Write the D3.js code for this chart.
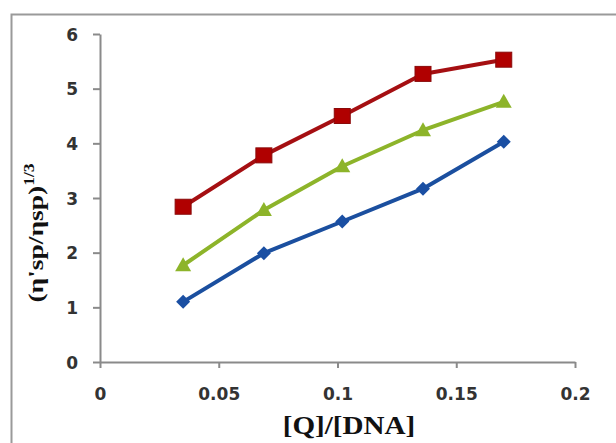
<!DOCTYPE html>
<html>
<head>
<meta charset="utf-8">
<script src="https://cdn.jsdelivr.net/npm/d3@7"></script>
<style>
  html, body { margin: 0; padding: 0; background: #fff; }
  svg { display: block; }
</style>
</head>
<body>
<svg id="chart" width="616" height="443"></svg>
<script>
// ---- data ----
const xValues = [0.035, 0.069, 0.102, 0.136, 0.17];
const seriesRed = [2.84, 3.78, 4.50, 5.27, 5.53];
const seriesGreen = [1.77, 2.78, 3.58, 4.24, 4.76];
const seriesBlue = [1.10, 1.99, 2.57, 3.17, 4.03];
const xTickValues = [0, 0.05, 0.1, 0.15, 0.2];
const xTickLabels = ["0", "0.05", "0.1", "0.15", "0.2"];
const yTickValues = [0, 1, 2, 3, 4, 5, 6];
const yTickLabels = ["0", "1", "2", "3", "4", "5", "6"];

const svg = d3.select("#chart");

// outer frame (partially cropped in the reference)
svg.append("rect")
  .attr("x", 11.5).attr("y", 14.5)
  .attr("width", 700).attr("height", 600)
  .attr("fill", "none").attr("stroke", "#9a9a9a").attr("stroke-width", 2);

const x = d3.scaleLinear().domain([0, 0.2]).range([100, 575]);
const y = d3.scaleLinear().domain([0, 6]).range([362, 34]);

const axisColor = "#8a8a8a";

// x axis
const gx = svg.append("g").attr("transform", `translate(0,${y(0)})`)
  .call(d3.axisBottom(x).tickValues(xTickValues)
    .tickFormat((d, i) => xTickLabels[i]).tickSize(6).tickSizeOuter(0));
gx.select(".domain").attr("stroke", axisColor).attr("stroke-width", 2);
gx.selectAll(".tick line").attr("stroke", axisColor).attr("stroke-width", 2);
gx.selectAll(".tick text")
  .attr("y", 0).attr("dy", 0)
  .attr("transform", "translate(0,38)")
  .attr("font-family", "DejaVu Sans").attr("font-weight", "bold")
  .attr("font-size", 17).attr("fill", "#333");

// y axis
const gy = svg.append("g").attr("transform", `translate(${x(0)},0)`)
  .call(d3.axisLeft(y).tickValues(yTickValues)
    .tickFormat((d, i) => yTickLabels[i]).tickSize(7).tickSizeOuter(0));
gy.select(".domain").attr("stroke", axisColor).attr("stroke-width", 2);
gy.selectAll(".tick line").attr("stroke", axisColor).attr("stroke-width", 2);
gy.selectAll(".tick text")
  .attr("x", -22).attr("dy", "0.36em")
  .attr("font-family", "DejaVu Sans").attr("font-weight", "bold")
  .attr("font-size", 17).attr("fill", "#333");

// series
const series = [
  { values: seriesBlue, color: "#1b4f9f", marker: "diamond" },
  { values: seriesGreen, color: "#8db42a", marker: "triangle" },
  { values: seriesRed, color: "#a50f12", marker: "square" }
];

const line = d3.line().x(d => x(d[0])).y(d => y(d[1]));

series.forEach(s => {
  const pts = xValues.map((xv, i) => [xv, s.values[i]]);
  svg.append("path").datum(pts)
    .attr("d", line).attr("fill", "none")
    .attr("stroke", s.color).attr("stroke-width", 4)
    .attr("stroke-linejoin", "round");
  const g = svg.append("g");
  pts.forEach(p => {
    const cx = x(p[0]), cy = y(p[1]);
    if (s.marker === "square") {
      g.append("rect").attr("x", cx - 8).attr("y", cy - 7.5)
        .attr("width", 16).attr("height", 15)
        .attr("fill", "#b00000").attr("stroke", "#8a0a0a").attr("stroke-width", 1);
    } else if (s.marker === "triangle") {
      g.append("path")
        .attr("d", `M${cx},${cy - 8} L${cx + 8},${cy + 6} L${cx - 8},${cy + 6} Z`)
        .attr("fill", s.color);
    } else {
      g.append("path")
        .attr("d", `M${cx},${cy - 7} L${cx + 7},${cy} L${cx},${cy + 7} L${cx - 7},${cy} Z`)
        .attr("fill", "#1a4fa3");
    }
  });
});

// x axis title
svg.append("text")
  .attr("transform", "translate(349,434) scale(1.12,1)")
  .attr("text-anchor", "middle")
  .attr("font-family", "Liberation Serif").attr("font-weight", "bold")
  .attr("font-size", 26).attr("fill", "#111")
  .text("[Q]/[DNA]");

// y axis title
const yt = svg.append("text")
  .attr("transform", "translate(43,233) rotate(-90) scale(1.25,1)")
  .attr("text-anchor", "middle")
  .attr("font-family", "Liberation Serif").attr("font-weight", "bold")
  .attr("font-size", 22).attr("fill", "#111");
yt.append("tspan").text("(η'sp/ηsp)");
yt.append("tspan").attr("font-size", 14).attr("dy", -9).text("1/3");
</script>
</body>
</html>
